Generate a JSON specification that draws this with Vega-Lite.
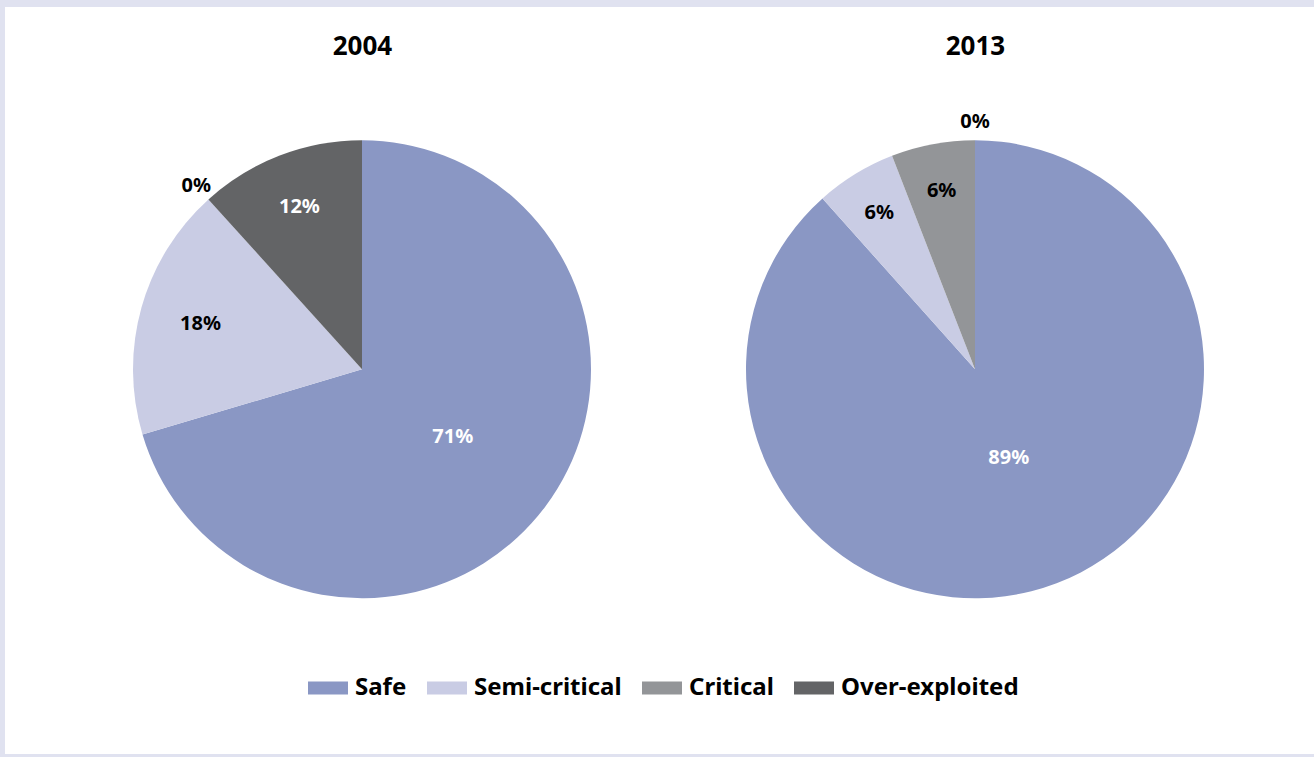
{
  "$schema": "https://vega.github.io/schema/vega-lite/v6.json",
  "width": 1314,
  "height": 757,
  "autosize": {"type": "fit", "contains": "padding"},
  "padding": {"left": 5, "top": 7, "right": 0, "bottom": 3},
  "background": "#e0e2f0",
  "config": {
    "view": {"fill": "white", "stroke": null},
    "font": "Noto Sans",
    "legend": {
      "orient": "none",
      "legendX": 303,
      "legendY": 661,
      "direction": "horizontal",
      "title": null,
      "labelFontSize": 24,
      "labelFontWeight": "bold",
      "labelColor": "black",
      "labelFont": "Noto Sans",
      "labelOffset": 7,
      "labelLimit": 0,
      "columnPadding": 20,
      "symbolType": "M-1,-0.325H1V0.325H-1Z",
      "symbolSize": 1600,
      "symbolStrokeWidth": 0,
      "symbolOpacity": 1
    }
  },
  "data": {
    "values": [
      {"year": "2004", "status": "Safe", "order": 1, "value": 70.4, "label": "71%"},
      {"year": "2004", "status": "Semi-critical", "order": 2, "value": 17.9, "label": "18%"},
      {"year": "2004", "status": "Critical", "order": 3, "value": 0, "label": "0%"},
      {"year": "2004", "status": "Over-exploited", "order": 4, "value": 11.7, "label": "12%"},
      {"year": "2013", "status": "Safe", "order": 1, "value": 88.4, "label": "89%"},
      {"year": "2013", "status": "Semi-critical", "order": 2, "value": 5.7, "label": "6%"},
      {"year": "2013", "status": "Critical", "order": 3, "value": 5.9, "label": "6%"},
      {"year": "2013", "status": "Over-exploited", "order": 4, "value": 0, "label": "0%"}
    ]
  },
  "encoding": {
    "x": {
      "field": "year",
      "type": "nominal",
      "scale": {"type": "point", "range": [357, 970], "padding": 0},
      "axis": {
        "orient": "top",
        "title": null,
        "domain": false,
        "ticks": false,
        "tickSize": 0,
        "grid": false,
        "labelPadding": -52,
        "labelFontSize": 26,
        "labelFontWeight": "bold",
        "labelColor": "black",
        "labelAngle": 0
      }
    },
    "y": {"datum": 0.515, "type": "quantitative", "scale": {"domain": [0, 1]}, "axis": null},
    "theta": {"field": "value", "type": "quantitative", "stack": true},
    "order": {"field": "order", "type": "quantitative"}
  },
  "layer": [
    {
      "transform": [{"filter": "datum.year == '2004'"}],
      "mark": {"type": "arc", "outerRadius": 229},
      "encoding": {
        "color": {
          "field": "status",
          "type": "nominal",
          "scale": {
            "domain": ["Safe", "Semi-critical", "Critical", "Over-exploited"],
            "range": ["#8a97c4", "#c9cce4", "#939598", "#636466"]
          }
        }
      }
    },
    {
      "transform": [{"filter": "datum.year == '2013'"}],
      "mark": {"type": "arc", "outerRadius": 229},
      "encoding": {
        "color": {"field": "status", "type": "nominal"}
      }
    },
    {
      "transform": [{"filter": "datum.year == '2004'"}],
      "mark": {"type": "text", "fontSize": 20, "fontWeight": "bold"},
      "encoding": {
        "detail": {"field": "status", "type": "nominal"},
        "text": {"field": "label", "type": "nominal"},
        "radius": {
          "field": "value",
          "type": "quantitative",
          "scale": {"type": "linear", "domain": [0, 6, 89], "range": [247, 180, 94]}
        },
        "color": {
          "condition": {
            "test": "datum.value > 0 && (datum.status == 'Safe' || datum.status == 'Over-exploited')",
            "value": "white"
          },
          "value": "black"
        }
      }
    },
    {
      "transform": [{"filter": "datum.year == '2013'"}],
      "mark": {"type": "text", "fontSize": 20, "fontWeight": "bold"},
      "encoding": {
        "detail": {"field": "status", "type": "nominal"},
        "text": {"field": "label", "type": "nominal"},
        "radius": {"field": "value", "type": "quantitative"},
        "color": {
          "condition": {
            "test": "datum.value > 0 && (datum.status == 'Safe' || datum.status == 'Over-exploited')",
            "value": "white"
          },
          "value": "black"
        }
      }
    }
  ]
}
